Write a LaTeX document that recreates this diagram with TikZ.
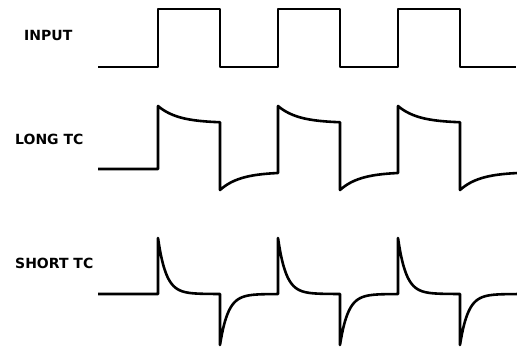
\documentclass[tikz,border=0pt]{standalone}
\usepackage{fontspec}
\newfontfamily\labelfont{DejaVu Sans}

\begin{document}
\begin{tikzpicture}[x=1pt, y=-1pt,
  wave/.style={line width=2.6pt, line join=round},
  lbl/.style={anchor=west, inner sep=0pt, font=\labelfont\bfseries\fontsize{14}{14}\selectfont}]
  \useasboundingbox (0,0) rectangle (517,346);
  % edges: rise at 158, 278, 398 and fall 62 later (period 120)
  \node[lbl] (input) at (24,35) {INPUT};
  \node[lbl] (longtc) at (15,139) {LONG TC};
  \node[lbl] (shorttc) at (15,263) {SHORT TC};
  % square wave, low 67, high 9
  \draw[wave] (98,67) foreach \r in {158,278,398} {
      -- (\r,67) -- (\r,9) -- (\r+62,9) -- (\r+62,67) } -- (516,67);
  % long time constant: sags to 123 on top, creeps back to 172 below, tau ~ 20
  \draw[wave] (98,169) foreach \r in {158,278,398} {
      -- (\r,169) -- (\r,106)
      -- plot[domain=0:62, samples=30] ({\r+\x},{123-17*exp(-\x/20)})
      -- (\r+62,190)
      -- plot[domain=0:58, samples=30] ({\r+62+\x},{172+18*exp(-\x/20)}) };
  % short time constant: spikes back to 294, tau ~ 8
  \draw[wave] (98,294) foreach \r in {158,278,398} {
      -- (\r,294) -- (\r,238)
      -- plot[domain=0:62, samples=60] ({\r+\x},{294-56*exp(-\x/8)})
      -- (\r+62,345)
      -- plot[domain=0:58, samples=60] ({\r+62+\x},{294+51*exp(-\x/8)}) };
\end{tikzpicture}
\end{document}
